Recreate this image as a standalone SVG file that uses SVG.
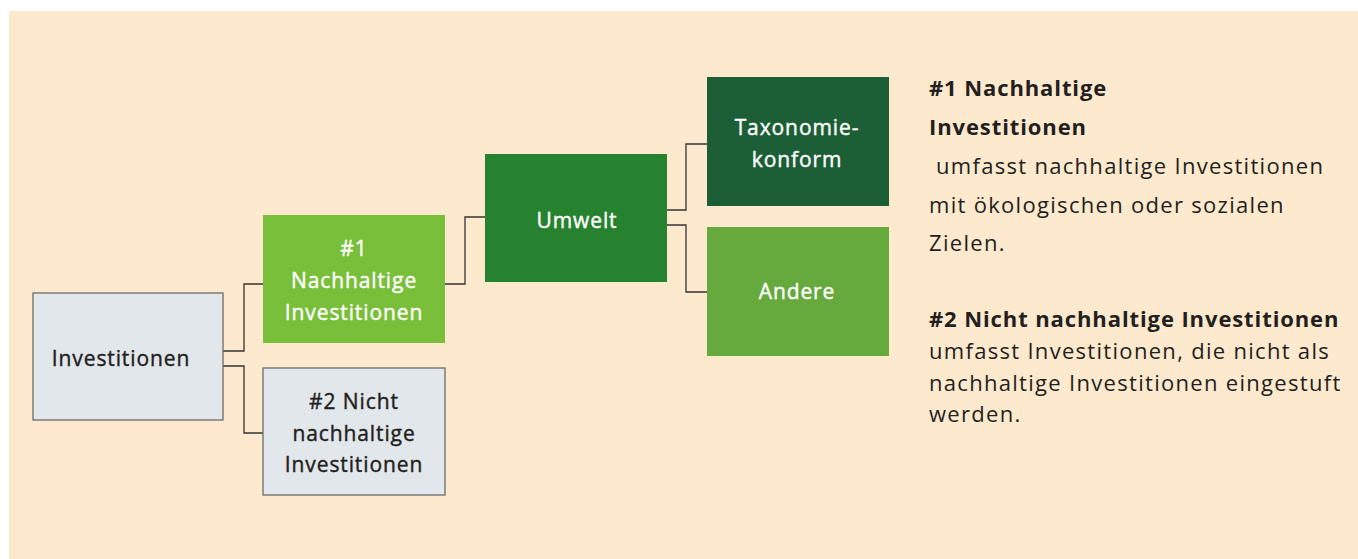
<svg xmlns="http://www.w3.org/2000/svg" width="1358" height="559" viewBox="0 0 1358 559">
<style>
.node text{font-family:"Open Sans","Liberation Sans",sans-serif;font-size:21px;letter-spacing:0.9px;text-anchor:middle;stroke-width:0.4px}
.dark text{fill:#231f20;stroke:#231f20}
.light text{fill:#ffffff;stroke:#ffffff}
.grey rect{fill:#e2e7eb;stroke:#6b6b6b;stroke-width:1.3}
.desc{font-family:"Open Sans","Liberation Sans",sans-serif;font-size:22px;letter-spacing:1.3px;fill:#231f20}
.desc .b{font-weight:700;letter-spacing:0.9px}
#connectors path{fill:none;stroke:#333;stroke-width:1.3}
</style>
<rect x="9" y="11" width="1349" height="548" fill="#fde9cd"/>
<g id="connectors">
<path d="M223,351 H244 V284 H263"/>
<path d="M223,366 H244 V433 H263"/>
<path d="M445,284 H465 V217 H485"/>
<path d="M667,210 H686 V144 H707"/>
<path d="M667,225 H686 V292 H707"/>
</g>
<g id="investitionen" class="node dark grey">
<rect x="33" y="293" width="190" height="127"/>
<text x="121" y="366">Investitionen</text>
</g>
<g id="nachhaltig" class="node light">
<rect x="263" y="215" width="182" height="128" fill="#79bf3a"/>
<text x="354" y="256">#1</text>
<text x="354" y="288">Nachhaltige</text>
<text x="354" y="320">Investitionen</text>
</g>
<g id="nicht-nachhaltig" class="node dark grey">
<rect x="263" y="368" width="182" height="127"/>
<text x="354" y="409">#2 Nicht</text>
<text x="354" y="441">nachhaltige</text>
<text x="354" y="472">Investitionen</text>
</g>
<g id="umwelt" class="node light">
<rect x="485" y="154" width="182" height="128" fill="#27822f"/>
<text x="577" y="228">Umwelt</text>
</g>
<g id="taxonomie" class="node light">
<rect x="707" y="77" width="182" height="129" fill="#1c5f36"/>
<text x="797" y="135">Taxonomie-</text>
<text x="797" y="167">konform</text>
</g>
<g id="andere" class="node light">
<rect x="707" y="227" width="182" height="129" fill="#66aa3e"/>
<text x="797" y="299">Andere</text>
</g>
<g id="legend" class="desc">
<text x="929" y="96" class="b">#1 Nachhaltige</text>
<text x="929" y="135" class="b">Investitionen</text>
<text x="929" y="174" xml:space="preserve"> umfasst nachhaltige Investitionen</text>
<text x="929" y="213">mit ökologischen oder sozialen</text>
<text x="929" y="251">Zielen.</text>
<text x="929" y="327" class="b">#2 Nicht nachhaltige Investitionen</text>
<text x="929" y="359">umfasst Investitionen, die nicht als</text>
<text x="929" y="391">nachhaltige Investitionen eingestuft</text>
<text x="929" y="422">werden.</text>
</g>
</svg>
